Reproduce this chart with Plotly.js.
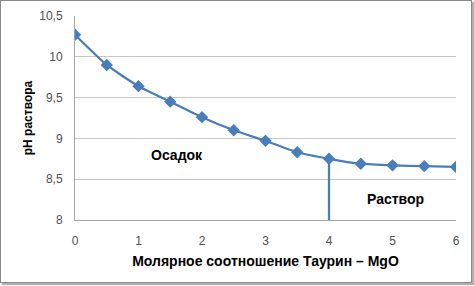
<!DOCTYPE html>
<html><head><meta charset="utf-8">
<script src="https://cdn.plot.ly/plotly-3.0.1.min.js"></script>
<style>
html,body{margin:0;padding:0;background:#fff;}
#wrap{position:absolute;left:0;top:0;width:470px;height:281px;border:1px solid #8a8a8a;box-shadow:2px 2px 1px #b0b0b0;background:#fff;}
#chart{width:470px;height:281px;}
</style>
</head><body>
<div id="wrap"><div id="chart"></div></div>
<script>
const ratio = [0, 0.5, 1, 1.5, 2, 2.5, 3, 3.5, 4, 4.5, 5, 5.5, 6];
const pH = [10.27, 9.9, 9.64, 9.45, 9.26, 9.1, 8.97, 8.83, 8.75, 8.69, 8.67, 8.66, 8.65];
const boundaryX = [4, 4];
const boundaryY = [8, 8.75];
const labels = ["Осадок", "Раствор"];
const labelX = [1.6, 5.05];
const labelY = [8.8, 8.26];
const xTitle = "Молярное соотношение Таурин – MgO";
const yTitle = "pH раствора";

const blue = "#4A7EBB";
const font = "Liberation Sans, Arial, sans-serif";

const traces = [
  {x: ratio, y: pH, mode: "lines+markers", type: "scatter",
   line: {color: blue, width: 2.25, shape: "spline", smoothing: 0.6},
   marker: {symbol: "diamond", size: 9.5, color: blue}, hoverinfo: "none"},
  {x: boundaryX, y: boundaryY, mode: "lines", type: "scatter",
   line: {color: blue, width: 2.25}, hoverinfo: "none"}
];

const layout = {
  width: 470, height: 281,
  margin: {l: 74, r: 15, t: 15, b: 62},
  paper_bgcolor: "#fff", plot_bgcolor: "#fff",
  showlegend: false,
  separators: ", ",
  font: {family: font, size: 12, color: "#404040"},
  xaxis: {range: [0, 6], dtick: 1, showgrid: false, zeroline: false,
    showline: true, linecolor: "#a6a6a6", linewidth: 1,
    ticks: "", ticklabelstandoff: 10, tickfont: {size: 12, color: "#505050"},
    title: {text: "<b>" + xTitle + "</b>", font: {size: 14, color: "#000"}, standoff: 8}},
  yaxis: {range: [8, 10.5], dtick: 0.5, showgrid: true, gridcolor: "#c8c8c8", gridwidth: 1,
    zeroline: false, showline: true, linecolor: "#a6a6a6", linewidth: 1,
    ticks: "", ticklabelstandoff: 9, tickfont: {size: 12, color: "#505050"},
    title: {text: "<b>" + yTitle + "</b>", font: {size: 12, color: "#000"}, standoff: 4}},
  annotations: labels.map((t, i) => ({x: labelX[i], y: labelY[i], xref: "x", yref: "y",
    text: "<b>" + t + "</b>", showarrow: false, font: {size: 14, color: "#000"}}))
};

Plotly.newPlot("chart", traces, layout, {displayModeBar: false, staticPlot: true});
</script>
</body></html>
